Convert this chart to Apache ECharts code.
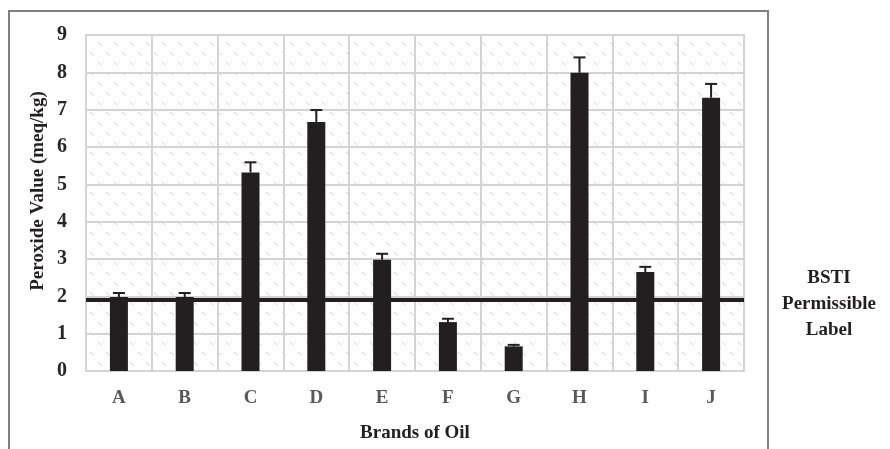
<!DOCTYPE html>
<html>
<head>
<meta charset="utf-8">
<script src="https://cdn.jsdelivr.net/npm/echarts@6/dist/echarts.min.js"></script>
<style>
  html, body { margin: 0; padding: 0; background: #fff; }
  #chart { width: 890px; height: 449px; }
</style>
</head>
<body>
<div id="chart"></div>
<script>
// Peroxide value of ten oil brands with standard deviation and the BSTI limit
const brands = ['A', 'B', 'C', 'D', 'E', 'F', 'G', 'H', 'I', 'J'];
const peroxide = [1.98, 1.98, 5.32, 6.67, 2.98, 1.31, 0.66, 7.99, 2.65, 7.32];
const errors = [0.11, 0.11, 0.27, 0.32, 0.16, 0.09, 0.04, 0.41, 0.14, 0.37];
const bstiLimit = 1.91;
const yTicks = [0, 1, 2, 3, 4, 5, 6, 7, 8, 9];

const serif = '"Liberation Serif", "Times New Roman", serif';
const ink = '#231f20';

// faint diagonal-dash texture for the plot background
function hatchTile() {
  const c = document.createElement('canvas');
  c.width = 16; c.height = 20;
  const g = c.getContext('2d');
  g.fillStyle = '#ffffff';
  g.fillRect(0, 0, 16, 20);
  g.strokeStyle = '#d2d2d2';
  g.lineWidth = 1;
  g.beginPath();
  g.moveTo(2, 2); g.lineTo(5.5, 5.5);
  g.moveTo(10, 12); g.lineTo(13.5, 15.5);
  g.stroke();
  return c;
}

const chart = echarts.init(document.getElementById('chart'), null, { renderer: 'canvas' });

chart.setOption({
  animation: false,
  grid: {
    left: 86, top: 35, right: 146, bottom: 78,
    outerBoundsMode: 'none',
    containLabel: false,
    show: true,
    backgroundColor: { image: hatchTile(), repeat: 'repeat' },
    borderColor: '#d4d4d4',
    borderWidth: 2
  },
  graphic: [
    {
      type: 'rect',
      shape: { x: 9, y: 11, width: 759, height: 460 },
      style: { fill: 'none', stroke: '#808080', lineWidth: 2 },
      silent: true,
      z: -10
    },
    {
      // value-axis title
      type: 'text',
      x: 38, y: 191,
      rotation: Math.PI / 2,
      style: {
        text: 'Peroxide Value (meq/kg)',
        font: 'bold 19px ' + serif,
        fill: '#231f20',
        align: 'center',
        verticalAlign: 'middle'
      }
    },
    {
      type: 'text',
      x: 829, y: 265,
      style: {
        text: 'BSTI\nPermissible\nLabel',
        font: 'bold 19px ' + serif,
        fill: '#231f20',
        align: 'center',
        verticalAlign: 'top',
        lineHeight: 26
      }
    }
  ],
  xAxis: {
    type: 'category',
    data: brands,
    name: 'Brands of Oil',
    nameLocation: 'middle',
    nameGap: 53,
    nameTextStyle: { fontFamily: serif, fontWeight: 'bold', fontSize: 19, color: '#231f20' },
    axisLine: { show: true, lineStyle: { color: '#d4d4d4', width: 2 } },
    axisTick: { show: false },
    axisLabel: { fontFamily: serif, fontWeight: 'bold', fontSize: 19, color: '#595959', margin: 18 },
    splitLine: { show: true, interval: 0, lineStyle: { color: '#d4d4d4', width: 2 } }
  },
  yAxis: {
    type: 'value',
    min: yTicks[0],
    max: yTicks[yTicks.length - 1],
    interval: 1,
    axisLine: { show: false },
    axisTick: { show: false },
    axisLabel: { fontFamily: serif, fontWeight: 'bold', fontSize: 20, color: '#262626', margin: 19 },
    splitLine: { show: true, lineStyle: { color: '#d4d4d4', width: 2 } }
  },
  series: [
    {
      type: 'bar',
      data: peroxide,
      barWidth: 18,
      itemStyle: { color: ink },
      z: 3,
      markLine: {
        silent: true,
        symbol: ['none', 'none'],
        label: { show: false },
        lineStyle: { color: ink, width: 4, type: 'solid' },
        data: [{ yAxis: bstiLimit }]
      }
    },
    {
      type: 'custom',
      z: 4,
      data: peroxide.map((v, i) => [i, v, v + errors[i]]),
      renderItem: function (params, api) {
        const base = api.coord([api.value(0), api.value(1)]);
        const top = api.coord([api.value(0), api.value(2)]);
        const half = 6;
        const st = { stroke: ink, lineWidth: 2 };
        return {
          type: 'group',
          children: [
            { type: 'line', shape: { x1: base[0], y1: base[1], x2: top[0], y2: top[1] }, style: st },
            { type: 'line', shape: { x1: top[0] - half, y1: top[1], x2: top[0] + half, y2: top[1] }, style: st }
          ]
        };
      }
    }
  ]
});
</script>
</body>
</html>
